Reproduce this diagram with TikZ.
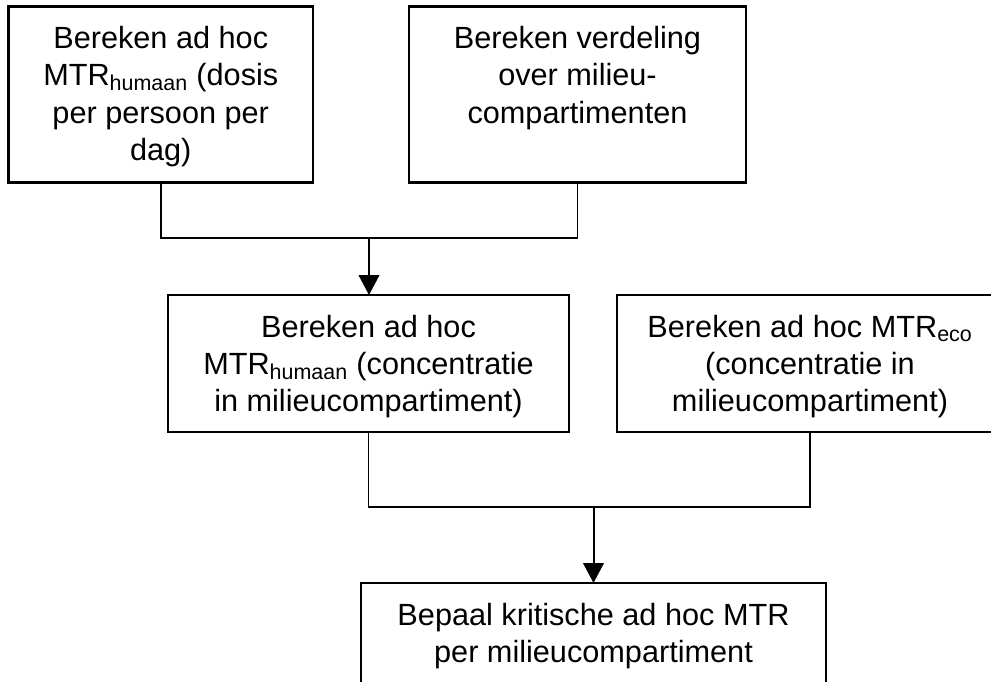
\documentclass[tikz,border=0pt]{standalone}
\usepackage{fontspec}
\setmainfont{Liberation Sans}
\usetikzlibrary{arrows.meta}
\newcommand{\boxtxt}[3]{\parbox[c][#2][t]{#1}{\centering\rule{0pt}{31.5pt}#3\par}}
\begin{document}
\begin{tikzpicture}[x=0.75pt,y=-0.75pt,
  box/.style={draw,line width=1.9pt,inner sep=0pt,outer sep=0pt,font=\fontsize{23}{28}\selectfont},
  link/.style={line width=1.2pt},
  flow/.style={line width=1.5pt,-{Triangle[length=15pt,width=15.5pt]}}]
\clip (0,0) rectangle (991,681);
\fill[white] (0,0) rectangle (991,681);
\node[box] (b1) at (160.75,94.5) {\boxtxt{228.4pt}{132pt}{Bereken ad hoc\\MTR\textsubscript{humaan} (dosis\\per persoon per\\dag)}};
\node[box] (b2) at (577.5,94.5) {\boxtxt{252.75pt}{132pt}{Bereken verdeling\\over milieu-\\compartimenten}};
\node[box] (b3) at (368.5,363.5) {\boxtxt{300.75pt}{102.75pt}{Bereken ad hoc\\MTR\textsubscript{humaan} (concentratie\\in milieucompartiment)}};
\node[box] (b4) at (810,363.5) {\boxtxt{289.5pt}{102.75pt}{Bereken ad hoc MTR\textsubscript{eco}\\(concentratie in\\milieucompartiment)}};
\node[box] (b5) at (593.5,651.5) {\boxtxt{348.75pt}{102.75pt}{Bepaal kritische ad hoc MTR\\per milieucompartiment}};
\coordinate (j1) at (369,238);
\coordinate (j2) at (593.5,507);
\draw[link] (b1.south) |- (j1) -| (b2.south);
\draw[flow] (j1) -- (j1 |- b3.north);
\draw[link] (b3.south) |- (j2) -| (b4.south);
\draw[flow] (j2) -- (j2 |- b5.north);
\end{tikzpicture}
\end{document}
